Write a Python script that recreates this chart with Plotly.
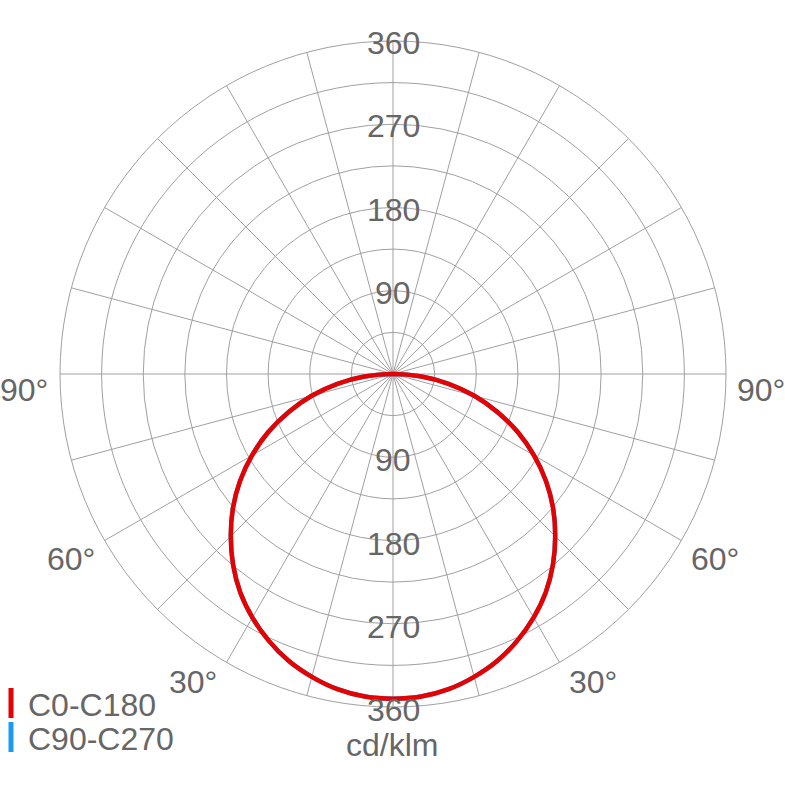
import plotly.graph_objects as go

# Data (luminous intensity, cd/klm)
gamma_deg = [-90, -85, -80, -75, -70, -65, -60, -55, -50, -45, -40, -35, -30, -25, -20, -15, -10, -5,
             0, 5, 10, 15, 20, 25, 30, 35, 40, 45, 50, 55, 60, 65, 70, 75, 80, 85, 90]
c0_c180 = [0, 31, 61, 91, 120, 149, 176, 202, 226, 248, 269, 288, 304, 318, 330, 339, 346, 350,
           351, 350, 346, 339, 330, 318, 304, 288, 269, 248, 226, 202, 176, 149, 120, 91, 61, 31, 0]
c90_c270 = [0, 31, 61, 91, 120, 149, 176, 202, 226, 248, 269, 288, 304, 318, 330, 339, 346, 350,
            351, 350, 346, 339, 330, 318, 304, 288, 269, 248, 226, 202, 176, 149, 120, 91, 61, 31, 0]

series_names = ["C0-C180", "C90-C270"]
series_colors = ["#e60000", "#1a9bf0"]
radial_ticks = [45, 90, 135, 180, 225, 270, 315, 360]
radial_labels = ["90", "180", "270", "360"]
angle_labels = ["90°", "60°", "30°"]
unit_label = "cd/klm"

W = H = 785
FONT = "Liberation Sans, Arial, sans-serif"
TXT = "#666666"
GRID = "#a0a0a0"
FS = 32

fig = go.Figure()
fig.add_trace(go.Scatterpolar(r=c90_c270, theta=gamma_deg, mode="lines",
                              line=dict(color=series_colors[1], width=4.5, shape="spline"),
                              name=series_names[1], showlegend=False))
fig.add_trace(go.Scatterpolar(r=c0_c180, theta=gamma_deg, mode="lines",
                              line=dict(color=series_colors[0], width=4.5, shape="spline"),
                              name=series_names[0], showlegend=False))

cx, cy, R = 393, 374, 333
fig.update_layout(
    width=W, height=H, margin=dict(l=0, r=0, t=0, b=0),
    paper_bgcolor="white", plot_bgcolor="white", showlegend=False,
    polar=dict(
        domain=dict(x=[(cx - R) / W, (cx + R) / W], y=[1 - (cy + R) / H, 1 - (cy - R) / H]),
        bgcolor="white",
        angularaxis=dict(rotation=-90, direction="clockwise", tickmode="linear", tick0=0, dtick=15,
                         showticklabels=False, ticks="", gridcolor=GRID, gridwidth=1,
                         showline=True, linecolor=GRID, linewidth=1),
        radialaxis=dict(range=[0, 360], tickvals=radial_ticks, showticklabels=False, ticks="",
                        gridcolor=GRID, gridwidth=1, showline=False),
    ),
)

def px_ann(text, x, y, size=FS, xanchor="center"):
    fig.add_annotation(text=text, x=x / W, y=1 - y / H, xref="paper", yref="paper",
                       showarrow=False, xanchor=xanchor, yanchor="middle",
                       font=dict(family=FONT, size=size, color=TXT))

# radial labels on the vertical axis, above and below the centre
ring_px = R / 360
for v, lab in zip([90, 180, 270, 360], radial_labels):
    px_ann(lab, cx, cy - v * ring_px + 2)
    px_ann(lab, cx, cy + v * ring_px + 3)

# angle labels
px_ann(angle_labels[0], 24, 390)
px_ann(angle_labels[0], 761, 390)
px_ann(angle_labels[1], 71, 559)
px_ann(angle_labels[1], 715, 559)
px_ann(angle_labels[2], 193, 682)
px_ann(angle_labels[2], 593, 682)

px_ann(unit_label, 392, 745)

# legend
for i, (nm, col) in enumerate(zip(series_names, series_colors)):
    y0 = 688 + i * 34
    fig.add_shape(type="rect", xref="paper", yref="paper",
                  x0=8.5 / W, x1=13.5 / W, y0=1 - (y0 + 30) / H, y1=1 - y0 / H,
                  fillcolor=col, line=dict(width=0))
    px_ann(nm, 26, y0 + 17, xanchor="left")

fig.write_html("out.html", config={"displayModeBar": False},
               post_script="document.body.style.margin='0';document.body.style.overflow='hidden';")
